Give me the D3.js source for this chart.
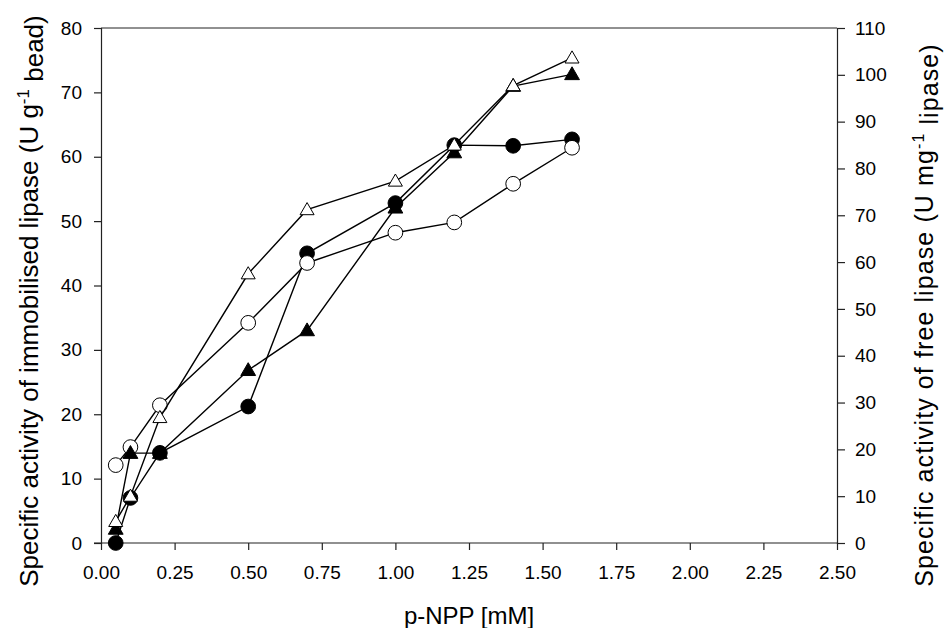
<!DOCTYPE html>
<html>
<head>
<meta charset="utf-8">
<script src="https://cdn.jsdelivr.net/npm/d3@7"></script>
<style>
  body { margin: 0; background: #fff; }
  text { font-family: "Liberation Sans", Arial, sans-serif; fill: #000; }
</style>
</head>
<body>
<svg id="chart" width="945" height="628"></svg>
<script>
// p-NPP concentrations (mM)
var conc = [0.05, 0.1, 0.2, 0.5, 0.7, 1.0, 1.2, 1.4, 1.6];

// immobilised lipase, left axis (U g-1 bead)
var immobFilled = [0, 7, 14, 21.2, 45, 52.8, 61.8, 61.7, 62.7];
var immobOpen = [12.1, 14.9, 21.4, 34.2, 43.5, 48.2, 49.8, 55.8, 61.4];

// free lipase, right axis (U mg-1 lipase)
var freeFilled = [3, 19.2, 19.2, 36.9, 45.4, 71.6, 83.4, 97.6, 100.1];
var freeOpen = [4.6, 10, 26.8, 57.5, 71.2, 77.3, 85, 97.7, 103.6];

var xTicks = [0, 0.25, 0.5, 0.75, 1, 1.25, 1.5, 1.75, 2, 2.25, 2.5];
var leftTicks = [0, 10, 20, 30, 40, 50, 60, 70, 80];
var rightTicks = [0, 10, 20, 30, 40, 50, 60, 70, 80, 90, 100, 110];

var svg = d3.select("#chart"),
	margin = {left: 101, right: 108, top: 28, bottom: 85},
	width = +svg.attr("width"),
	height = +svg.attr("height");

var x = d3.scaleLinear().domain([0, 2.5]).range([margin.left, width - margin.right]);
var yLeft = d3.scaleLinear().domain([0, 80]).range([height - margin.bottom, margin.top]);
var yRight = d3.scaleLinear().domain([0, 110]).range([height - margin.bottom, margin.top]);

// top frame line
svg.append("line")
	.attr("x1", x(0)).attr("x2", x(2.5))
	.attr("y1", yLeft(80)).attr("y2", yLeft(80))
	.attr("stroke", "#222").attr("stroke-width", 1);

var gx = svg.append("g")
	.attr("transform", "translate(0," + yLeft(0) + ")")
	.call(d3.axisBottom(x).tickValues(xTicks).tickSize(7).tickPadding(16)
		.tickFormat(d3.format(".2f")));

var gl = svg.append("g")
	.attr("transform", "translate(" + x(0) + ",0)")
	.call(d3.axisLeft(yLeft).tickValues(leftTicks).tickSize(7).tickPadding(12));

var gr = svg.append("g")
	.attr("transform", "translate(" + x(2.5) + ",0)")
	.call(d3.axisRight(yRight).tickValues(rightTicks).tickSize(8).tickPadding(10));

[gx, gl, gr].forEach(function(g) {
	g.selectAll("path").attr("stroke", "#222").attr("stroke-width", 1.2);
	g.selectAll("line").attr("stroke", "#222").attr("stroke-width", 1.2);
	g.selectAll("text").style("font-size", "19px").attr("fill", "#000");
	g.attr("font-family", null);
});
gx.select(".domain").attr("d", "M" + (x(0) - 7) + ",0H" + x(2.5));

var series = [
	{values: immobFilled, y: yLeft, shape: d3.symbolCircle, size: 170, fill: "#000"},
	{values: immobOpen, y: yLeft, shape: d3.symbolCircle, size: 170, fill: "#fff"},
	{values: freeFilled, y: yRight, shape: d3.symbolTriangle, size: 95, fill: "#000"},
	{values: freeOpen, y: yRight, shape: d3.symbolTriangle, size: 85, fill: "#fff"}
];

series.forEach(function(s) {
	var pts = conc.map(function(c, i) { return {x: c, v: s.values[i]}; });
	var line = d3.line()
		.x(function(d) { return x(d.x); })
		.y(function(d) { return s.y(d.v); });
	var g = svg.append("g");
	g.append("path")
		.attr("d", line(pts))
		.attr("fill", "none")
		.attr("stroke", "#000")
		.attr("stroke-width", 1.4);
	g.selectAll("path.pt").data(pts).enter().append("path")
		.attr("class", "pt")
		.attr("d", d3.symbol().type(s.shape).size(s.size))
		.attr("transform", function(d) {
			var dy = s.shape === d3.symbolTriangle ? 1 : 0;
			return "translate(" + x(d.x) + "," + (s.y(d.v) + dy) + ")";
		})
		.attr("fill", s.fill)
		.attr("stroke", "#000")
		.attr("stroke-width", 1);
});

// axis titles
svg.append("text")
	.attr("x", (x(0) + x(2.5)) / 2).attr("y", 624)
	.attr("text-anchor", "middle")
	.style("font-size", "24px")
	.text("p-NPP [mM]");

var tl = svg.append("text")
	.attr("transform", "translate(38," + 301 + ") rotate(-90)")
	.attr("text-anchor", "middle")
	.style("font-size", "26px");
tl.append("tspan").text("Specific activity of immobilised lipase (U g");
tl.append("tspan").attr("dy", "-0.55em").style("font-size", "17px").text("-1");
tl.append("tspan").attr("dy", "0.55em").text(" bead)");

var tr = svg.append("text")
	.attr("transform", "translate(933," + 315 + ") rotate(-90)")
	.attr("text-anchor", "middle")
	.style("font-size", "25px")
	.style("letter-spacing", "1.1px");
tr.append("tspan").text("Specific activity of free lipase (U mg");
tr.append("tspan").attr("dy", "-0.55em").style("font-size", "16px").text("-1");
tr.append("tspan").attr("dy", "0.55em").text(" lipase)");
</script>
</body>
</html>
